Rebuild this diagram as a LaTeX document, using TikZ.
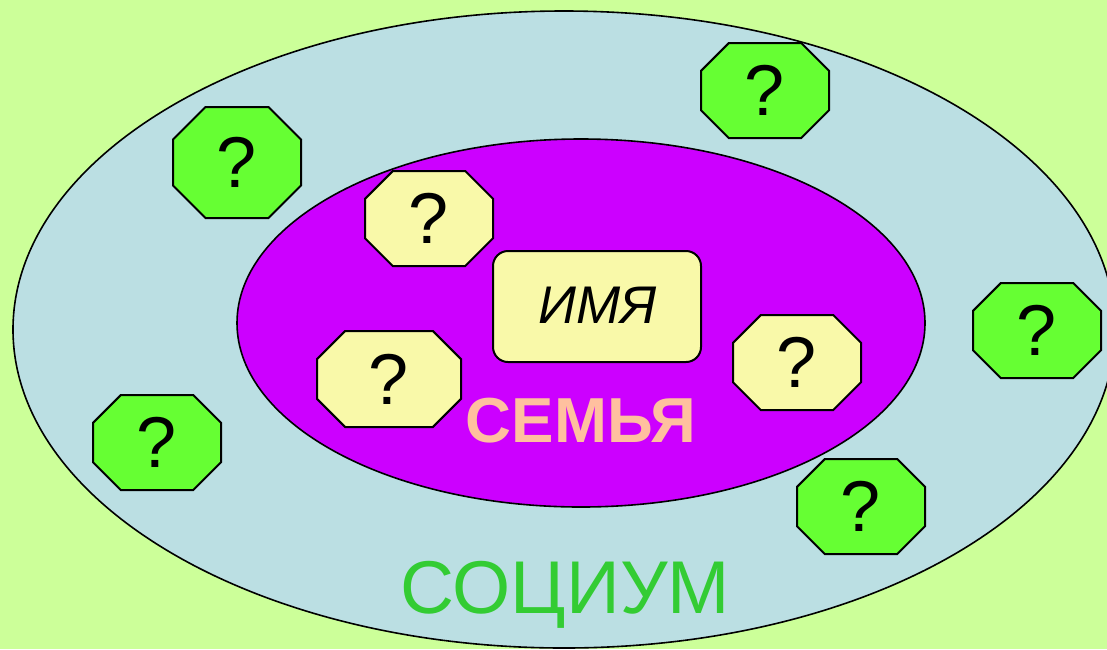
\documentclass[tikz,border=0pt]{standalone}
\usepackage{fontspec}
\setmainfont{Liberation Sans}
\definecolor{bgreen}{HTML}{CCFF99}
\definecolor{socblue}{HTML}{BBDFE3}
\definecolor{fampurple}{HTML}{CC00FF}
\definecolor{octgreen}{HTML}{66FF33}
\definecolor{octyellow}{HTML}{F9F9A9}
\definecolor{famtext}{HTML}{FFC09F}
\definecolor{soctext}{HTML}{33CC33}
\tikzset{
  octline/.style={draw=black, line width=1pt, line join=miter},
  qmark/.style={inner sep=0pt, font=\fontsize{36}{40}\selectfont},
}
\begin{document}
\begin{tikzpicture}[x=0.5pt, y=-0.5pt]
  % background
  \fill[bgreen] (0,0) rectangle (1107,649);
  \useasboundingbox (0,0) rectangle (1107,649);
  % socium and family
  \draw[fill=socblue, line width=0.8pt] (564,329.5) ellipse [x radius=551, y radius=318.5];
  \draw[fill=fampurple, line width=0.8pt] (581,323) ellipse [x radius=344, y radius=184];
  % octagons: name/left/top/right/bottom/colour
  \foreach \nm/\xa/\ya/\xb/\yb/\col in {
      sa/173/107/301/218/octgreen, sb/701/43/829/138/octgreen,
      sc/973/283/1101/378/octgreen, sd/93/395/221/490/octgreen,
      se/797/459/925/554/octgreen,
      fa/365/171/493/266/octyellow, fb/317/331/461/427/octyellow,
      fc/733/315/861/410/octyellow} {
    \pgfmathsetmacro\cut{0.2929*min(\xb-\xa,\yb-\ya)}
    \draw[octline, fill=\col] (\xa+\cut,\ya) -- (\xb-\cut,\ya) -- (\xb,\ya+\cut)
      -- (\xb,\yb-\cut) -- (\xb-\cut,\yb) -- (\xa+\cut,\yb) -- (\xa,\yb-\cut)
      -- (\xa,\ya+\cut) -- cycle;
    \node[qmark] (\nm) at ({(\xa+\xb)/2},{(\ya+\yb)/2}) {?};
  }
  % name
  \draw[octline, fill=octyellow, rounded corners=7.5pt] (493,251) rectangle (701,362);
  \node[anchor=base, inner sep=0pt, font=\itshape\fontsize{26.5}{30}\selectfont] (name) at (598,323) {ИМЯ};
  % labels
  \node[anchor=base, inner sep=0pt, text=famtext, font=\bfseries\fontsize{31.8}{34}\selectfont] (family) at (581,442) {СЕМЬЯ};
  \node[anchor=base, inner sep=0pt, text=soctext, font=\fontsize{37.4}{40}\selectfont] (socium) at (565,613) {СОЦИУМ};
\end{tikzpicture}
\end{document}
